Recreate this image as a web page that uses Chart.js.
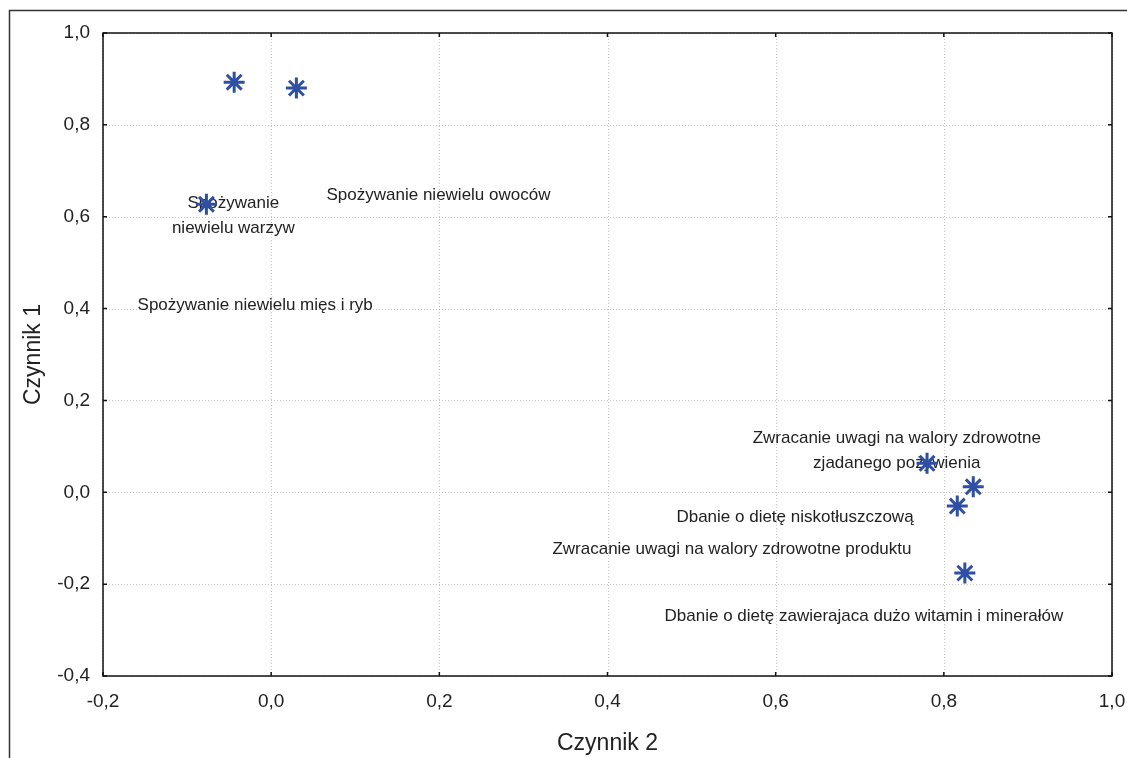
<!DOCTYPE html>
<html>
<head>
<meta charset="utf-8">
<script src="https://cdn.jsdelivr.net/npm/chart.js@4/dist/chart.umd.min.js"></script>
<style>
  html, body { margin: 0; padding: 0; background: #fff; }
  #c { display: block; }
</style>
</head>
<body>
<canvas id="c" width="1127" height="758"></canvas>
<script>
// ---- data ----
const pointX = [-0.044, 0.030, -0.077, 0.780, 0.835, 0.816, 0.825];
const pointY = [0.893, 0.880, 0.627, 0.063, 0.012, -0.030, -0.176];

const labelTexts = [
  ["Spożywanie niewielu owoców"],
  ["Spożywanie", "niewielu warzyw"],
  ["Spożywanie niewielu mięs i ryb"],
  ["Zwracanie uwagi na walory zdrowotne", "zjadanego pożywienia"],
  ["Dbanie o dietę niskotłuszczową"],
  ["Zwracanie uwagi na walory zdrowotne produktu"],
  ["Dbanie o dietę zawierajaca dużo witamin i minerałów"]
];
const labelX = [0.199, -0.045, -0.019, 0.744, 0.623, 0.548, 0.705];
const labelY = [0.647, 0.603, 0.408, 0.091, -0.054, -0.125, -0.271];

const xTickValues = [-0.2, 0.0, 0.2, 0.4, 0.6, 0.8, 1.0];
const xTickLabels = ["-0,2", "0,0", "0,2", "0,4", "0,6", "0,8", "1,0"];
const yTickValues = [-0.4, -0.2, 0.0, 0.2, 0.4, 0.6, 0.8, 1.0];
const yTickLabels = ["-0,4", "-0,2", "0,0", "0,2", "0,4", "0,6", "0,8", "1,0"];

const xTitle = "Czynnik 2";
const yTitle = "Czynnik 1";

// ---- styling ----
const FAMILY = '"Liberation Sans", Arial, sans-serif';
const SZ_TICK = 19;
const SZ_LABEL = 17;
const SZ_TITLE = 23;
const TXT = '#222';
const MARK = '#2f4fa3';

function tickLabel(values, labels, v) {
  for (let i = 0; i < values.length; i++) if (Math.abs(values[i] - v) < 1e-6) return labels[i];
  return '';
}

const decorPlugin = {
  id: 'decor',
  beforeDatasetsDraw(chart) {
    const ctx = chart.ctx;
    const a = chart.chartArea;
    const xs = chart.scales.x, ys = chart.scales.y;
    ctx.save();
    // dotted grid
    ctx.strokeStyle = '#c4c4c4';
    ctx.lineWidth = 1;
    ctx.setLineDash([1, 2]);
    ctx.beginPath();
    xTickValues.forEach(v => {
      const px = Math.round(xs.getPixelForValue(v)) + 0.5;
      ctx.moveTo(px, a.top); ctx.lineTo(px, a.bottom);
    });
    yTickValues.forEach(v => {
      const py = Math.round(ys.getPixelForValue(v)) + 0.5;
      ctx.moveTo(a.left, py); ctx.lineTo(a.right, py);
    });
    ctx.stroke();
    ctx.setLineDash([]);
    // text labels
    ctx.fillStyle = TXT;
    ctx.font = SZ_LABEL + 'px ' + FAMILY;
    ctx.textAlign = 'center';
    ctx.textBaseline = 'middle';
    const lh = 25;
    for (let i = 0; i < labelTexts.length; i++) {
      const lines = labelTexts[i];
      const cx = xs.getPixelForValue(labelX[i]);
      const cy = ys.getPixelForValue(labelY[i]);
      const y0 = cy - (lines.length - 1) * lh / 2;
      lines.forEach((t, k) => ctx.fillText(t, cx, y0 + k * lh));
    }
    ctx.restore();
  },
  afterDraw(chart) {
    const ctx = chart.ctx;
    const a = chart.chartArea;
    const xs = chart.scales.x, ys = chart.scales.y;
    ctx.save();
    ctx.strokeStyle = '#111';
    ctx.lineWidth = 1.5;
    // plot frame
    ctx.strokeRect(a.left, a.top, a.right - a.left, a.bottom - a.top);
    // inward tick marks on all four sides
    const L = 4;
    ctx.beginPath();
    xTickValues.forEach(v => {
      const px = xs.getPixelForValue(v);
      ctx.moveTo(px, a.bottom); ctx.lineTo(px, a.bottom - L);
      ctx.moveTo(px, a.top); ctx.lineTo(px, a.top + L);
    });
    yTickValues.forEach(v => {
      const py = ys.getPixelForValue(v);
      ctx.moveTo(a.left, py); ctx.lineTo(a.left + L, py);
      ctx.moveTo(a.right, py); ctx.lineTo(a.right - L, py);
    });
    ctx.stroke();
    // outer frame (top and left edges)
    ctx.strokeStyle = '#333';
    ctx.beginPath();
    ctx.moveTo(9.5, 758);
    ctx.lineTo(9.5, 10.5);
    ctx.lineTo(1127, 10.5);
    ctx.stroke();
    ctx.restore();
  }
};

new Chart(document.getElementById('c'), {
  type: 'scatter',
  data: {
    datasets: [{
      data: pointX.map((x, i) => ({ x: x, y: pointY[i] })),
      pointStyle: 'star',
      radius: 10.5,
      hoverRadius: 10.5,
      borderWidth: 3,
      borderColor: MARK,
      backgroundColor: MARK
    }]
  },
  options: {
    responsive: false,
    animation: false,
    devicePixelRatio: 1,
    layout: { padding: { left: 0, right: 15, top: 33, bottom: 0 } },
    plugins: { legend: { display: false }, tooltip: { enabled: false } },
    scales: {
      x: {
        type: 'linear',
        min: -0.2, max: 1.0,
        afterBuildTicks: s => { s.ticks = xTickValues.map(v => ({ value: v })); },
        afterFit: s => { s.height = 82; s.paddingLeft = 0; s.paddingRight = 0; },
        ticks: {
          callback: v => tickLabel(xTickValues, xTickLabels, v),
          color: TXT, padding: 14, maxRotation: 0, autoSkip: false,
          font: { family: FAMILY, size: SZ_TICK }
        },
        grid: { display: false, drawTicks: false },
        border: { display: false },
        title: {
          display: true, text: xTitle, color: TXT,
          font: { family: FAMILY, size: SZ_TITLE, lineHeight: 1 },
          padding: { top: 0, bottom: 3 }
        }
      },
      y: {
        type: 'linear',
        min: -0.4, max: 1.0,
        afterBuildTicks: s => { s.ticks = yTickValues.map(v => ({ value: v })); },
        afterFit: s => { s.width = 103; s.paddingTop = 0; s.paddingBottom = 0; },
        ticks: {
          callback: v => tickLabel(yTickValues, yTickLabels, v),
          color: TXT, padding: 13, autoSkip: false,
          font: { family: FAMILY, size: SZ_TICK }
        },
        grid: { display: false, drawTicks: false },
        border: { display: false },
        title: {
          display: true, text: yTitle, color: TXT,
          font: { family: FAMILY, size: SZ_TITLE, lineHeight: 1 },
          padding: { top: 22, bottom: 0 }
        }
      }
    }
  },
  plugins: [decorPlugin]
});
</script>
</body>
</html>
